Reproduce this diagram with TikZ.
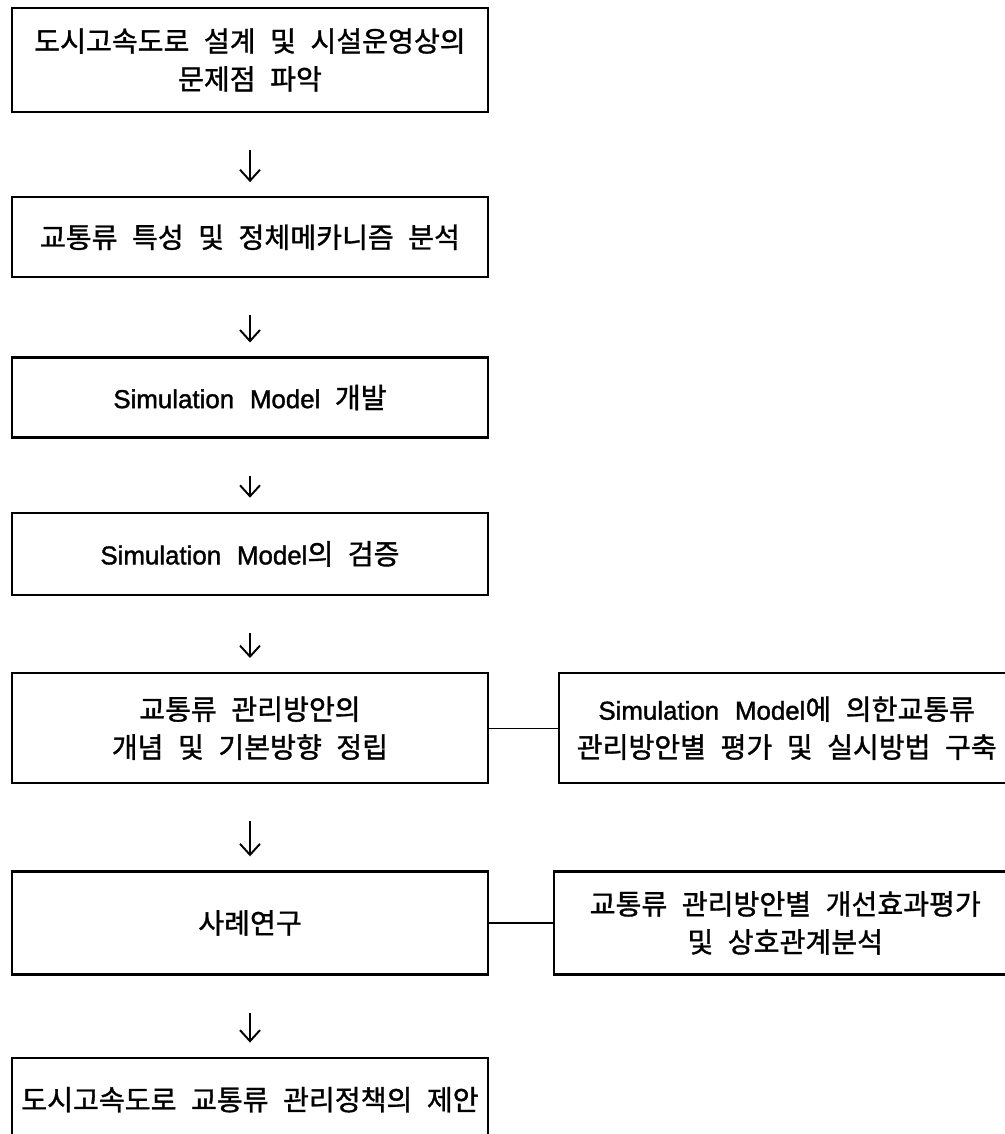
\documentclass[tikz,border=0pt]{standalone}
\usepackage{fontspec}
\setmainfont{Noto Sans CJK KR}[WordSpace=2.3, FakeBold=1.2]
\newfontfamily\lat{Liberation Sans}[Scale=0.92, WordSpace=2.2, FakeBold=1.4]
\usetikzlibrary{positioning,arrows.meta}
\tikzstyle{block} = [rectangle, draw, line width=1.3pt, minimum width=9.52cm,
    align=center, font=\fontsize{16pt}{21.6pt}\selectfont]
\tikzstyle{side} = [block, minimum width=9.1cm]
\tikzstyle{down} = [->, line width=1.1pt, shorten <=0.74cm, shorten >=0.28cm]
\tikzstyle{link} = [line width=0.7pt]

\begin{document}
\begin{tikzpicture}[>={Straight Barb[length=2.2mm,width=4mm]}, node distance=1.6cm]

  \useasboundingbox (0,0) rectangle (20.1,-22.68);
  \clip (0,0) rectangle (20.1,-22.68);

  \node[block, minimum height=2.08cm] (b1) at (5.0,-1.2) {도시고속도로 설계 및 시설운영상의\\문제점 파악};
  \node[block, minimum height=1.6cm]  (b2) [below=1.66cm of b1] {교통류 특성 및 정체메카니즘 분석};
  \node[block, minimum height=1.6cm]  (b3) [below=1.56cm of b2] {{\lat Simulation Model} 개발};
  \node[block, minimum height=1.64cm] (b4) [below=1.46cm of b3] {{\lat Simulation Model}의 검증};
  \node[block, minimum height=2.2cm]  (b5) [below=1.52cm of b4] {교통류 관리방안의\\개념 및 기본방향 정립};
  \node[block, minimum height=2.06cm] (b6) [below=1.72cm of b5] {사례연구};
  \node[block, minimum height=1.68cm] (b7) [below=1.62cm of b6] {도시고속도로 교통류 관리정책의 제안};

  \node[side, minimum height=2.2cm] (s5) [right=1.38cm of b5]
       {{\lat Simulation Model}에 의한교통류\\관리방안별 평가 및 실시방법 구축};
  \node[side, minimum height=2.06cm, minimum width=9.24cm] (s6) [right=1.28cm of b6]
       {교통류 관리방안별 개선효과평가\\및 상호관계분석};

  \foreach \a/\b in {b1/b2, b2/b3, b3/b4, b4/b5, b5/b6, b6/b7}
    \draw[down] (\a) -- (\b);

  \draw[link] (b5) -- (s5);
  \draw[link] (b6) -- (s6);
\end{tikzpicture}
\end{document}
